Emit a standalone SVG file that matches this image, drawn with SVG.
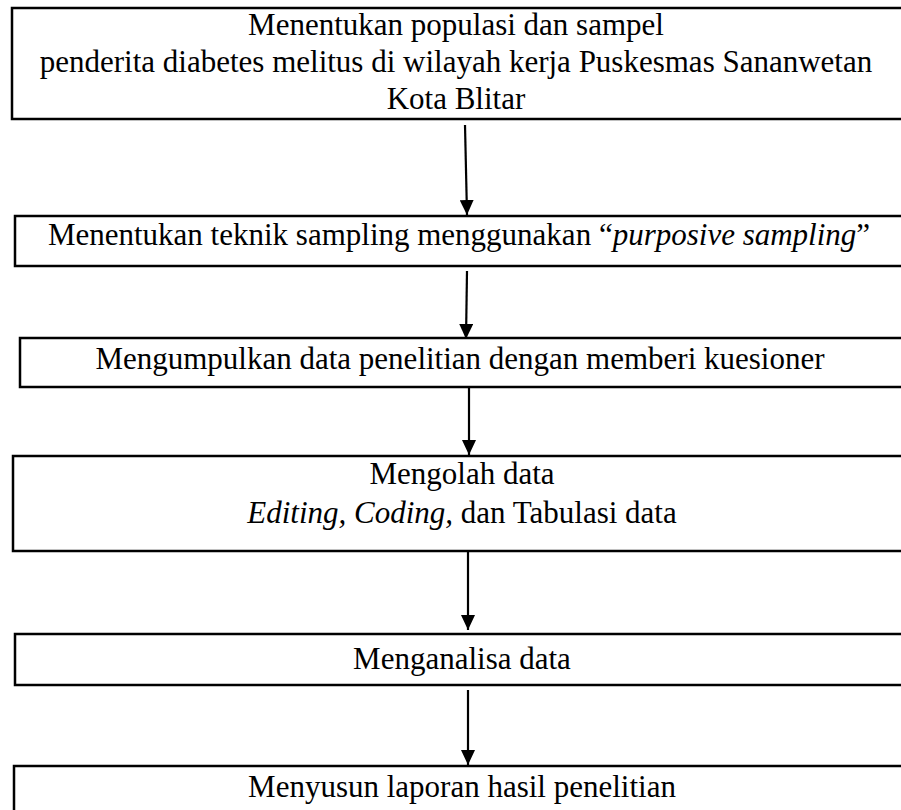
<svg xmlns="http://www.w3.org/2000/svg" width="901" height="810" viewBox="0 0 901 810">
<style>
.box{fill:#fff;stroke:#000;stroke-width:2.5}
.t{font-family:"Liberation Serif","Times New Roman",serif;font-size:31px;fill:#000;text-anchor:middle}
.i{font-style:italic}
.c{stroke:#000;stroke-width:2.2;fill:none}
</style>
<defs>
<marker id="ah" markerWidth="15" markerHeight="14" refX="15" refY="7" orient="auto" markerUnits="userSpaceOnUse" viewBox="0 0 15 14">
<path d="M0,0 L15,7 L0,14 Z" fill="#000"/>
</marker>
</defs>
<rect width="901" height="810" fill="#fff"/>
<g id="n1">
<rect class="box" x="12" y="8" width="900" height="111"/>
<text class="t" x="456" y="35">Menentukan populasi dan sampel</text>
<text class="t" x="456" y="72">penderita diabetes melitus di wilayah kerja Puskesmas Sananwetan</text>
<text class="t" x="456" y="109">Kota Blitar</text>
</g>
<g id="n2">
<rect class="box" x="15" y="216" width="900" height="50"/>
<text class="t" x="459" y="245">Menentukan teknik sampling menggunakan “<tspan class="i">purposive sampling</tspan>”</text>
</g>
<g id="n3">
<rect class="box" x="20" y="338" width="900" height="49"/>
<text class="t" x="460" y="369">Mengumpulkan data penelitian dengan memberi kuesioner</text>
</g>
<g id="n4">
<rect class="box" x="13" y="456" width="900" height="95"/>
<text class="t" x="462" y="484">Mengolah data</text>
<text class="t" x="462" y="523"><tspan class="i">Editing, Coding,</tspan> dan Tabulasi data</text>
</g>
<g id="n5">
<rect class="box" x="15" y="634" width="900" height="51"/>
<text class="t" x="462" y="669">Menganalisa data</text>
</g>
<g id="n6">
<rect class="box" x="14" y="766" width="900" height="60"/>
<text class="t" x="462" y="797">Menyusun laporan hasil penelitian</text>
</g>
<g id="connectors">
<line class="c" x1="465" y1="125" x2="467" y2="215" marker-end="url(#ah)"/>
<line class="c" x1="467" y1="271" x2="466" y2="339" marker-end="url(#ah)"/>
<line class="c" x1="469" y1="388" x2="469" y2="455" marker-end="url(#ah)"/>
<line class="c" x1="468" y1="552" x2="468" y2="630" marker-end="url(#ah)"/>
<line class="c" x1="468" y1="690" x2="468" y2="765" marker-end="url(#ah)"/>
</g>
</svg>
